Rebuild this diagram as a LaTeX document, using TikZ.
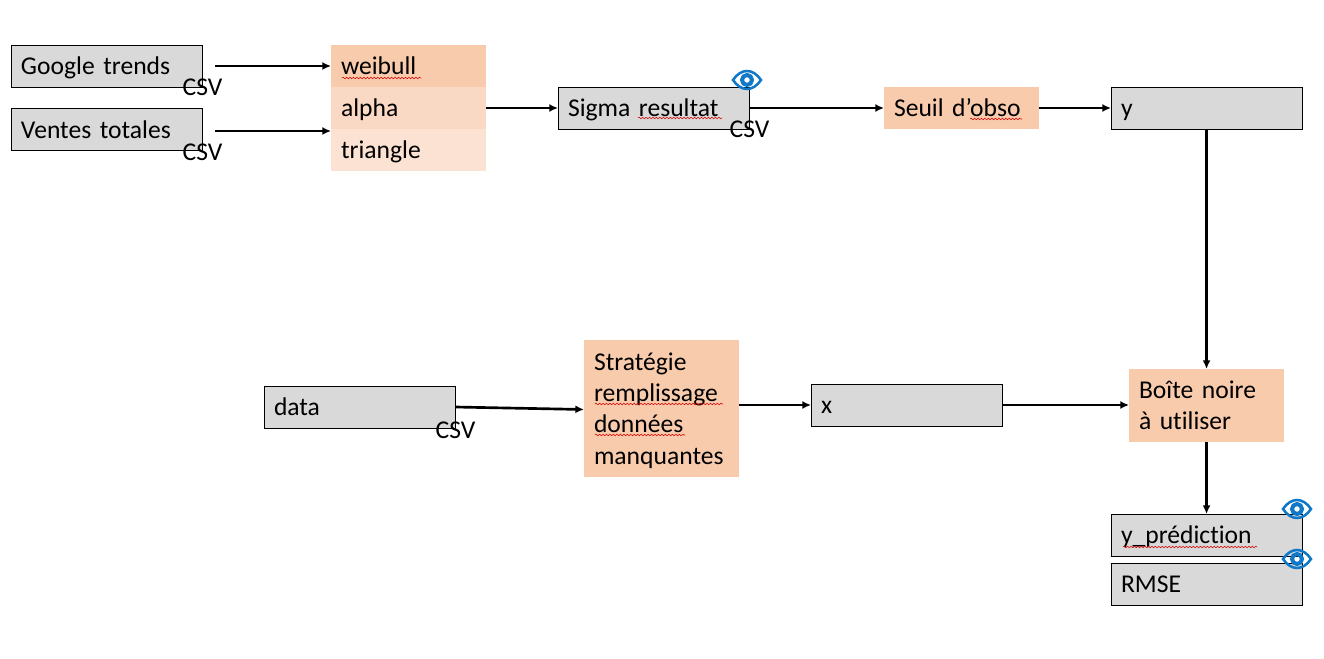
\documentclass[tikz,border=0pt]{standalone}
\usepackage{fontspec}
\setmainfont{Carlito}[RawFeature={-liga}]
\usetikzlibrary{decorations.pathmorphing,arrows.meta,calc}
\definecolor{boxgray}{HTML}{D9D9D9}
\definecolor{or1}{HTML}{F8CBAD}
\definecolor{or2}{HTML}{FAD9C4}
\definecolor{or3}{HTML}{FBE2D2}
\definecolor{eyeblue}{HTML}{0F78C8}
\tikzset{
  x=0.75pt,y=-0.75pt,
  every node/.style={font=\fontsize{19.2}{23.5}\selectfont},
  base/.style={anchor=north west,inner ysep=0pt,inner xsep=7.5pt,align=left,outer sep=0pt,
    execute at begin node={\rule{0pt}{20.2pt}},execute at end node={\strut}},
  graybox/.style={base,draw=black,line width=0.6pt,fill=boxgray,text width=128.3pt,minimum height=31.5pt},
  orangebox/.style={base,fill=or1,text width=101.25pt,minimum height=31.5pt},
  csv/.style={inner sep=0pt,anchor=center},
  conn/.style={draw=black,line width=2pt,-{Latex[length=6.5pt,width=6pt]}},
  squig/.style={draw=red!85!black,line width=0.4pt,decorate,decoration={snake,amplitude=0.6pt,segment length=2.6pt}},
  pics/eye/.style={code={
    \draw[eyeblue,line width=1.9pt] (-14,0) .. controls (-6,-12) and (6,-12) .. (14,0) .. controls (6,12) and (-6,12) .. (-14,0) -- cycle;
    \draw[eyeblue,line width=3pt] (0,0) circle (5);
  }}
}
\begin{document}
\begin{tikzpicture}
\useasboundingbox (0,0) rectangle (1324,659);
\fill[white] (0,0) rectangle (1324,659);
\node[graybox] (google) at (11,45) {Google trends};
\node[graybox] (ventes) at (11,108.5) {Ventes totales};
\node[orangebox] (weibull) at (331,45) {weibull};
\node[orangebox,fill=or2] (alpha) at (331,87) {alpha};
\node[orangebox,fill=or3] (triangle) at (331,129) {triangle};
\node[graybox] (sigma) at (558,87) {Sigma resultat};
\node[orangebox] (seuil) at (884,87) {Seuil d’obso};
\node[graybox] (y) at (1111,87) {y};
\node[graybox] (data) at (264,386) {data};
\node[orangebox,minimum height=102.75pt] (strategie) at (584,340) {Stratégie\\remplissage\\données\\manquantes};
\node[graybox] (x) at (811,384) {x};
\node[orangebox,minimum height=54.75pt] (boite) at (1129,369) {Boîte noire\\à utiliser};
\node[graybox] (ypred) at (1111,514) {y\_prédiction};
\node[graybox] (rmse) at (1111,563) {RMSE};
\node[csv] (c1) at (202.5,87) {CSV};
\node[csv] (c2) at (202.5,152) {CSV};
\node[csv] (c3) at (749.5,129) {CSV};
\node[csv] (c4) at (455.5,430) {CSV};
\coordinate (s1) at (215,66);
\coordinate (s2) at (215,131);
\draw[conn] (s1) -- (s1 -| weibull.west);
\draw[conn] (s2) -- (s2 -| triangle.west);
\draw[conn] (alpha.east) -- (sigma.west);
\draw[conn] (sigma.east) -- (seuil.west);
\draw[conn] (seuil.east) -- (y.west);
\draw[conn] (y.south) -- (y.south |- boite.north);
\draw[conn] (data.east) -- ($(strategie.west)+(0,1)$);
\draw[conn] (strategie.east |- x.west) -- (x.west);
\draw[conn] (x.east) -- (x.east -| boite.west);
\draw[conn] (boite.south -| y.south) -- (ypred.north);
\draw[squig] (342,78) -- (421,78);
\draw[squig] (638,118) -- (722,118);
\draw[squig] (970,119) -- (1022,119);
\draw[squig] (595,404) -- (723,404);
\draw[squig] (595,435) -- (685,435);
\draw[squig] (1123,547) -- (1257,547);
\pic at (747,80) {eye};
\pic at (1297,509) {eye};
\pic at (1297,559) {eye};
\end{tikzpicture}
\end{document}
